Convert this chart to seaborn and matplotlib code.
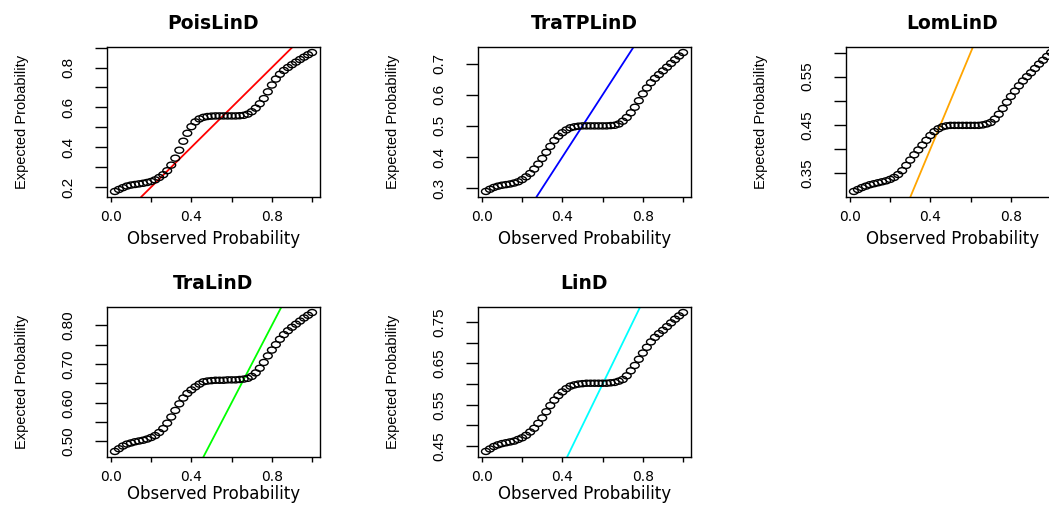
import numpy as np
import pandas as pd
import matplotlib
matplotlib.use("Agg")
import matplotlib.pyplot as plt
from matplotlib.path import Path
from matplotlib.transforms import Affine2D
import seaborn as sns

# ---------------- data ----------------
observed = [i / 50 for i in range(1, 51)]

titles = ["PoisLinD", "TraTPLinD", "LomLinD", "TraLinD", "LinD"]
line_colors = ["red", "blue", "orange", "#00FF00", "cyan"]

exp_poislind = [0.178, 0.188, 0.197, 0.205, 0.210, 0.213, 0.216, 0.219, 0.223, 0.228,
                0.236, 0.248, 0.262, 0.282, 0.310, 0.345, 0.385, 0.430, 0.470, 0.503,
                0.527, 0.542, 0.550, 0.554, 0.556, 0.557, 0.557, 0.557, 0.557, 0.557,
                0.557, 0.558, 0.560, 0.566, 0.578, 0.596, 0.618, 0.644, 0.678, 0.712,
                0.742, 0.766, 0.785, 0.800, 0.814, 0.827, 0.840, 0.852, 0.864, 0.875]
exp_tratplind = [0.289, 0.296, 0.302, 0.306, 0.309, 0.311, 0.313, 0.316, 0.320, 0.327,
                 0.336, 0.347, 0.361, 0.377, 0.395, 0.415, 0.434, 0.453, 0.467, 0.478,
                 0.487, 0.494, 0.497, 0.499, 0.500, 0.500, 0.500, 0.500, 0.500, 0.500,
                 0.500, 0.501, 0.502, 0.506, 0.515, 0.527, 0.542, 0.560, 0.581, 0.603,
                 0.622, 0.639, 0.653, 0.665, 0.677, 0.689, 0.701, 0.713, 0.725, 0.736]
exp_lomlind = [0.312, 0.316, 0.320, 0.323, 0.326, 0.328, 0.330, 0.332, 0.334, 0.337,
               0.341, 0.347, 0.355, 0.366, 0.377, 0.388, 0.398, 0.408, 0.418, 0.428,
               0.436, 0.442, 0.446, 0.448, 0.449, 0.449, 0.449, 0.449, 0.449, 0.449,
               0.449, 0.449, 0.450, 0.452, 0.455, 0.462, 0.472, 0.484, 0.497, 0.509,
               0.520, 0.531, 0.541, 0.550, 0.558, 0.567, 0.576, 0.584, 0.592, 0.600]
exp_tralind = [0.474, 0.481, 0.488, 0.493, 0.496, 0.499, 0.501, 0.503, 0.506, 0.510,
               0.515, 0.523, 0.533, 0.547, 0.563, 0.580, 0.597, 0.612, 0.624, 0.633,
               0.641, 0.648, 0.654, 0.656, 0.657, 0.658, 0.658, 0.658, 0.659, 0.659,
               0.659, 0.660, 0.661, 0.663, 0.668, 0.677, 0.689, 0.704, 0.721, 0.736,
               0.750, 0.764, 0.776, 0.786, 0.795, 0.803, 0.811, 0.819, 0.826, 0.833]
exp_lind = [0.437, 0.443, 0.449, 0.453, 0.456, 0.458, 0.460, 0.462, 0.466, 0.470,
            0.476, 0.484, 0.493, 0.505, 0.518, 0.533, 0.548, 0.561, 0.572, 0.581,
            0.589, 0.595, 0.598, 0.600, 0.601, 0.602, 0.602, 0.602, 0.602, 0.602,
            0.602, 0.603, 0.604, 0.607, 0.611, 0.620, 0.632, 0.645, 0.660, 0.675,
            0.689, 0.702, 0.713, 0.722, 0.730, 0.739, 0.748, 0.757, 0.765, 0.773]
expected = [exp_poislind, exp_tratplind, exp_lomlind, exp_tralind, exp_lind]

xticks = [0.0, 0.2, 0.4, 0.6, 0.8, 1.0]
xticklabels = ["0.0", "", "0.4", "", "0.8", ""]

yticks = [
    [0.2, 0.3, 0.4, 0.5, 0.6, 0.7, 0.8, 0.9],
    [0.3, 0.4, 0.5, 0.6, 0.7],
    [0.35, 0.40, 0.45, 0.50, 0.55, 0.60],
    [0.50, 0.55, 0.60, 0.65, 0.70, 0.75, 0.80],
    [0.45, 0.50, 0.55, 0.60, 0.65, 0.70, 0.75],
]
yticklabels = [
    ["0.2", "", "0.4", "", "0.6", "", "0.8", ""],
    ["0.3", "0.4", "0.5", "0.6", "0.7"],
    ["0.35", "", "0.45", "", "0.55", ""],
    ["0.50", "", "0.60", "", "0.70", "", "0.80"],
    ["0.45", "", "0.55", "", "0.65", "", "0.75"],
]

# ---------------- style ----------------
sns.set_style("ticks")
plt.rcParams["font.family"] = ["DejaVu Sans"]
plt.rcParams["text.color"] = "black"
plt.rcParams["axes.labelcolor"] = "black"
plt.rcParams["xtick.color"] = "black"
plt.rcParams["ytick.color"] = "black"
narrow = ["Liberation Sans Narrow", "Liberation Sans"]

fig = plt.figure(figsize=(10.49, 5.05), dpi=100)
W, H = 1049, 505
pw, ph = 213, 150
positions = [(107, 47), (478, 47), (846, 47), (107, 307), (478, 307)]

# slightly wide ellipse marker (horizontally stretched circle, as in reference)
ell = Path.unit_circle().transformed(Affine2D().scale(1.45, 1.0))

for k in range(5):
    left, top = positions[k]
    ax = fig.add_axes([left / W, 1 - (top + ph) / H, pw / W, ph / H])
    df = pd.DataFrame({"Observed": observed, "Expected": expected[k]})
    sns.scatterplot(data=df, x="Observed", y="Expected", ax=ax, marker=ell, s=40,
                    facecolors="none", edgecolor="black", linewidth=1.0,
                    legend=False, zorder=3)
    ax.axline((0, 0), slope=1, color=line_colors[k], lw=1.3, zorder=2)

    xr = max(observed) - min(observed)
    ax.set_xlim(min(observed) - 0.04 * xr, max(observed) + 0.04 * xr)
    yv = expected[k]
    yr = max(yv) - min(yv)
    ax.set_ylim(min(yv) - 0.04 * yr, max(yv) + 0.04 * yr)

    ax.set_xticks(xticks)
    ax.set_xticklabels(xticklabels, fontsize=10)
    ax.set_yticks(yticks[k])
    ax.set_yticklabels(yticklabels[k], rotation=90, va="center", ha="right",
                       family=narrow, fontsize=11)

    ax.tick_params(axis="x", direction="out", length=3.6, width=1.0, pad=6,
                   colors="black")
    ax.tick_params(axis="y", direction="out", length=8.6, width=1.0, pad=14,
                   colors="black")
    for sp in ax.spines.values():
        sp.set_visible(True)
        sp.set_color("black")
        sp.set_linewidth(1.0)

    ax.set_xlabel("Observed Probability", fontsize=12, color="black")
    ax.xaxis.set_label_coords(0.5, -0.28 if k < 3 else -0.245)
    ax.xaxis.label.set_va("center")
    ax.set_ylabel("Expected Probability", family=narrow, fontsize=10.5, color="black")
    ax.yaxis.set_label_coords(-0.40, 0.5)
    ax.yaxis.label.set_va("center")

    ax.set_title(titles[k], fontsize=13.5, fontweight="bold", y=1.117, pad=0,
                 color="black")

fig.savefig("out.png", dpi=100, facecolor="white")
